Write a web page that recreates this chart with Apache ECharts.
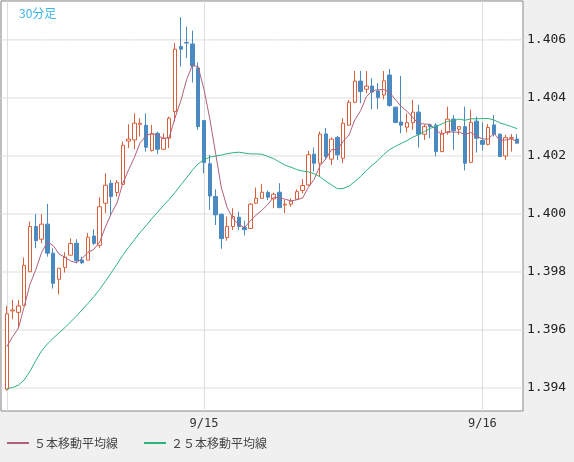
<!DOCTYPE html>
<html><head><meta charset="utf-8">
<script src="https://cdn.jsdelivr.net/npm/echarts@6/dist/echarts.min.js"></script>
<style>html,body{margin:0;padding:0;background:#f0f0f0}#c{width:574px;height:462px}</style>
</head><body><div id="c"></div>
<script>
// prices in units of 1e-5
const opens  = [139396,139666,139661,139685,139801,139957,139913,139965,139865,139775,139816,139858,139899,139841,139841,139924,139892,140037,140106,140074,140102,140251,140255,140309,140306,140219,140278,140223,140261,140353,140577,140591,140586,140503,140322,140173,140060,139999,139919,139957,139989,139953,139950,140037,140054,140074,140052,140075,140031,140034,140051,140081,140100,140206,140175,140276,140189,140264,140192,140306,140385,140458,140430,140441,140424,140410,140479,140368,140317,140299,140315,140351,140275,140307,140306,140215,140281,140327,140292,140301,140178,140320,140253,140240,140307,140275,140200,140261,140258];
const closes = [139656,139669,139683,139823,139957,139908,139965,139865,139761,139813,139851,139898,139839,139832,139920,139899,140025,140099,140060,140108,140237,140258,140313,140313,140230,140275,140223,140261,140330,140568,140568,140589,140510,140301,140177,140062,139997,139915,139957,139991,139957,139946,140034,140054,140075,140058,140068,140022,140034,140045,140077,140098,140204,140175,140275,140198,140258,140204,140313,140385,140458,140422,140441,140420,140401,140459,140374,140315,140306,140315,140351,140275,140301,140301,140215,140278,140327,140287,140301,140175,140316,140261,140240,140298,140275,140198,140263,140263,140244];
const highs  = [139683,139704,139704,139850,139974,140000,140000,140035,139882,139813,139868,139916,139913,139853,139934,139947,140058,140140,140117,140117,140250,140309,140347,140330,140347,140307,140284,140278,140336,140589,140678,140646,140632,140522,140322,140204,140085,140002,139991,140020,140008,139977,140037,140091,140104,140081,140074,140106,140048,140054,140085,140120,140217,140229,140284,140296,140264,140269,140330,140393,140493,140493,140493,140468,140451,140493,140500,140370,140476,140347,140393,140376,140309,140309,140313,140290,140370,140341,140303,140370,140359,140336,140315,140310,140341,140278,140273,140275,140275];
const lows   = [139391,139637,139606,139685,139801,139882,139899,139853,139743,139723,139798,139858,139830,139827,139841,139893,139882,140003,139993,140060,140102,140227,140223,140267,140215,140215,140206,140221,140227,140318,140508,140537,140453,140290,140140,140014,139962,139880,139908,139945,139945,139926,139950,140034,140054,140048,140020,140020,140003,140025,140051,140071,140097,140146,140129,140186,140169,140186,140175,140304,140382,140382,140416,140361,140361,140395,140370,140315,140278,140281,140290,140229,140255,140261,140198,140213,140273,140221,140273,140150,140175,140212,140219,140236,140267,140196,140186,140215,140244];
// moving-average values read from the picture where earlier bars are not shown
const ma5Start  = [139543,139577,139606,139681];
const ma25Start = [139398,139402,139410,139428,139458,139495,139528,139552,139572,139590,139608,139628,139648,139670,139692,139715,139740,139768,139797,139827,139858,139885,139911,139937];
const yTicks = [1.394,1.396,1.398,1.400,1.402,1.404,1.406];
const dayLabels = {35:'9/15', 83:'9/16'};
const startHour = 6.5; // first (empty) slot 9/14 06:30

const S = 1e-5;
const cats = [];
for (let i = 0; i <= closes.length + 1; i++) {
  const t = startHour + i*0.5; const d = 14 + Math.floor(t/24); const h = t % 24;
  cats.push('9/' + d + ' ' + Math.floor(h) + ':' + (h % 1 ? '30' : '00'));
}
const candles = ['-'].concat(closes.map((c,i)=>[opens[i]*S, c*S, lows[i]*S, highs[i]*S]));
function ma(n, start){
  return closes.map((c,i)=>{
    if (i < start.length) return +(start[i]*S).toFixed(5);
    let s=0; for(let k=0;k<n;k++) s+=closes[i-k]; return +(s/n*S).toFixed(5);
  });
}
const ma5 = ['-'].concat(ma(5, ma5Start));
const ma25 = ['-'].concat(ma(25, ma25Start));
const gridSeries = yTicks.map(v=>({type:'line', data:cats.map(()=>v), symbol:'none', silent:true, z:1,
  lineStyle:{color:'#ddd', width:1}, tooltip:{show:false}}));

const chart = echarts.init(document.getElementById('c'));
chart.setOption({
  animation:false,
  backgroundColor:'#f0f0f0',
  title:{text:'30分足', left:14, top:2, textStyle:{color:'#3cb4e8', fontSize:12, fontWeight:'normal', fontFamily:'Noto Sans CJK JP'}},
  legend:{bottom:8, left:2, itemWidth:22, itemHeight:2, itemGap:26, icon:'rect',
    textStyle:{color:'#444', fontSize:12, fontFamily:'Noto Sans CJK JP'},
    data:['５本移動平均線','２５本移動平均線']},
  grid:{left:1, right:51, top:1, bottom:51, show:true, backgroundColor:'#fff', borderColor:'#888', borderWidth:1},
  xAxis:{type:'category', data:cats, boundaryGap:false,
    axisLine:{show:false}, axisTick:{show:false},
    axisLabel:{interval:(i)=>!!dayLabels[i], formatter:(v,i)=>dayLabels[i]||'', color:'#333', fontSize:12, fontFamily:'DejaVu Sans Mono', margin:7},
    splitLine:{show:true, interval:(i)=>i===1||!!dayLabels[i], lineStyle:{color:'#ddd'}}},
  yAxis:{type:'value', position:'right', min:1.39321, max:1.40734,
    axisLine:{show:false}, axisTick:{show:false},
    axisLabel:{customValues:yTicks, formatter:v=>v.toFixed(3), color:'#222', fontSize:13, fontFamily:'DejaVu Sans Mono', margin:4},
    splitLine:{show:false}},
  series:gridSeries.concat([
    {type:'candlestick', data:candles, barWidth:4, z:3,
      itemStyle:{color:'#ffffff', color0:'#4a8ac0', borderColor:'#d9603b', borderColor0:'#4a8ac0', borderWidth:1}},
    {name:'５本移動平均線', type:'line', data:ma5, symbol:'none', z:4, lineStyle:{width:1, color:'#b0607e'}, itemStyle:{color:'#b0607e'}},
    {name:'２５本移動平均線', type:'line', data:ma25, symbol:'none', z:4, lineStyle:{width:1, color:'#2db37a'}, itemStyle:{color:'#2db37a'}}
  ])
});
</script></body></html>
